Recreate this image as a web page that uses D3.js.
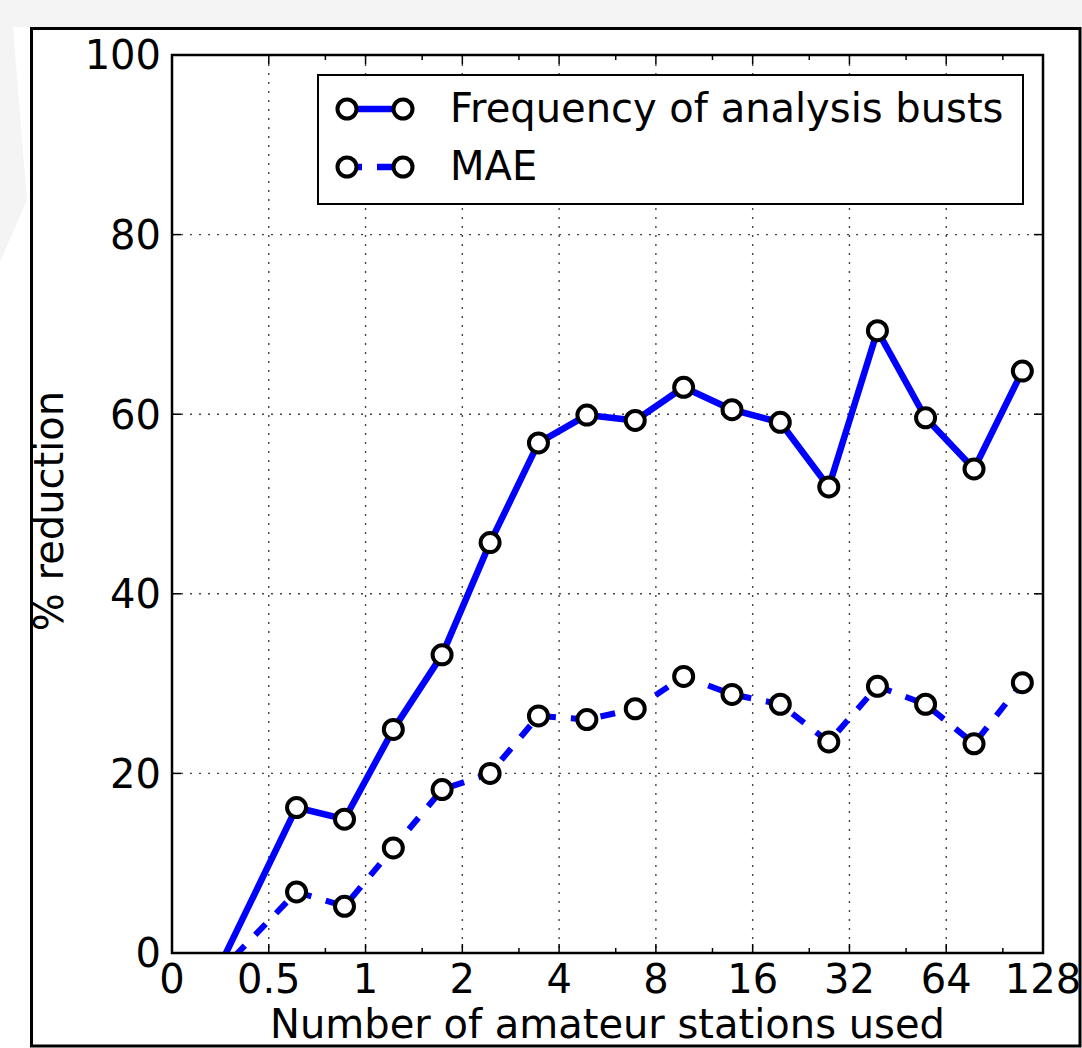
<!DOCTYPE html>
<html>
<head>
<meta charset="utf-8">
<script src="https://cdn.jsdelivr.net/npm/d3@7"></script>
<style>
  html, body { margin: 0; padding: 0; background: #ffffff; }
  svg { display: block; }
  text { font-family: "DejaVu Sans", sans-serif; fill: #000; }
</style>
</head>
<body>
<div id="chart"></div>
<script>
// ---- data ----
const stations = [0, 0.61, 0.86, 1.22, 1.73, 2.44, 3.45, 4.88, 6.9, 9.76, 13.8, 19.5, 27.6, 39.1, 55.2, 78.1, 110.4];
const freqReduction = [-12.4, 16.2, 14.9, 24.9, 33.2, 45.7, 56.8, 59.9, 59.3, 63.0, 60.5, 59.1, 51.9, 69.3, 59.6, 53.9, 64.8];
const maeReduction = [-7.6, 6.8, 5.2, 11.7, 18.2, 20.0, 26.4, 26.0, 27.2, 30.8, 28.8, 27.7, 23.5, 29.7, 27.7, 23.3, 30.1];
const xTickValues = [0, 0.5, 1, 2, 4, 8, 16, 32, 64, 128];
const xTickLabels = ["0", "0.5", "1", "2", "4", "8", "16", "32", "64", "128"];
const xMinorValues = [0.75, 1.5, 3, 6, 12, 24, 48, 96];
const yTickValues = [0, 20, 40, 60, 80, 100];
const seriesNames = ["Frequency of analysis busts", "MAE"];
const xTitle = "Number of amateur stations used";
const yTitle = "% reduction";

// ---- layout ----
const W = 1082, H = 1048;
const L = 172, R = 1043, T = 55, B = 953;
const FONT = 40;
const BLUE = "#0000ff";
const MR = 9.5, MSW = 4;

const svg = d3.select("#chart").append("svg").attr("width", W).attr("height", H);

// page background / frame
svg.append("rect").attr("width", W).attr("height", H).attr("fill", "#ffffff");
svg.append("path")
  .attr("d", "M0,0 L1082,0 L1082,27 L13,27 L27,200 L0,262 Z")
  .attr("fill", "#f4f4f4");
svg.append("rect").attr("x", 1080).attr("y", 0).attr("width", 2).attr("height", H).attr("fill", "#f4f4f4");
svg.append("rect")
  .attr("x", 31.5).attr("y", 28.5).attr("width", 1048.5).attr("height", 1017.5)
  .attr("fill", "#ffffff").attr("stroke", "#000").attr("stroke-width", 3);

// ---- scales ----
// x: log2 axis; the "0" position sits one octave below 0.5
const xLog = d3.scaleLog().base(2).domain([0.25, 128]).range([L, R]);
const x = v => xLog(v <= 0 ? 0.25 : v);
const y = d3.scaleLinear().domain([0, 100]).range([B, T]);

// clip path for the plot area
svg.append("clipPath").attr("id", "plotclip")
  .append("rect").attr("x", L).attr("y", T).attr("width", R - L).attr("height", B - T);

// ---- grid ----
const grid = svg.append("g");
xTickValues.filter(v => v > 0 && v < 128).forEach(v => {
  grid.append("line")
    .attr("x1", x(v)).attr("x2", x(v)).attr("y1", T).attr("y2", B)
    .attr("stroke", "#444").attr("stroke-width", 1.4).attr("stroke-dasharray", "2,7");
});
yTickValues.filter(v => v > 0 && v < 100).forEach(v => {
  grid.append("line")
    .attr("x1", L).attr("x2", R).attr("y1", y(v)).attr("y2", y(v))
    .attr("stroke", "#444").attr("stroke-width", 1.4).attr("stroke-dasharray", "2,7");
});

// ---- ticks (inward on all four sides) ----
const ticks = svg.append("g").attr("stroke", "#000").attr("stroke-width", 1.5);
const MAJ = 9, MIN = 5;
xTickValues.forEach(v => {
  ticks.append("line").attr("x1", x(v)).attr("x2", x(v)).attr("y1", B).attr("y2", B - MAJ);
  ticks.append("line").attr("x1", x(v)).attr("x2", x(v)).attr("y1", T).attr("y2", T + MAJ);
});
xMinorValues.forEach(v => {
  ticks.append("line").attr("x1", x(v)).attr("x2", x(v)).attr("y1", B).attr("y2", B - MIN);
  ticks.append("line").attr("x1", x(v)).attr("x2", x(v)).attr("y1", T).attr("y2", T + MIN);
});
yTickValues.forEach(v => {
  ticks.append("line").attr("x1", L).attr("x2", L + MAJ).attr("y1", y(v)).attr("y2", y(v));
  ticks.append("line").attr("x1", R).attr("x2", R - MAJ).attr("y1", y(v)).attr("y2", y(v));
});

// ---- series ----
const plot = svg.append("g").attr("clip-path", "url(#plotclip)");
const line = d3.line().x(d => x(d[0])).y(d => y(d[1]));
const freqPts = stations.map((s, i) => [s, freqReduction[i]]);
const maePts = stations.map((s, i) => [s, maeReduction[i]]);

plot.append("path").datum(maePts)
  .attr("d", line).attr("fill", "none").attr("stroke", BLUE)
  .attr("stroke-width", 6).attr("stroke-dasharray", "15,15");
plot.append("path").datum(freqPts)
  .attr("d", line).attr("fill", "none").attr("stroke", BLUE)
  .attr("stroke-width", 6.5).attr("stroke-linejoin", "round");

[maePts, freqPts].forEach(pts => {
  plot.selectAll(null).data(pts).enter().append("circle")
    .attr("cx", d => x(d[0])).attr("cy", d => y(d[1])).attr("r", MR)
    .attr("fill", "#fff").attr("stroke", "#000").attr("stroke-width", MSW);
});

// ---- axes frame ----
svg.append("rect")
  .attr("x", L).attr("y", T).attr("width", R - L).attr("height", B - T)
  .attr("fill", "none").attr("stroke", "#000").attr("stroke-width", 2.5);

// ---- tick labels ----
const labels = svg.append("g").style("font-size", FONT + "px");
xTickValues.forEach((v, i) => {
  labels.append("text")
    .attr("x", x(v)).attr("y", 993)
    .attr("text-anchor", "middle")
    .text(xTickLabels[i]);
});
yTickValues.forEach(v => {
  labels.append("text")
    .attr("x", 161).attr("y", y(v)).attr("dy", "0.36em")
    .attr("text-anchor", "end")
    .text(d3.format("d")(v));
});

// axis titles
labels.append("text")
  .attr("x", (L + R) / 2).attr("y", 1038)
  .attr("text-anchor", "middle")
  .text(xTitle);
labels.append("text")
  .attr("transform", `translate(63,${511}) rotate(-90)`)
  .attr("text-anchor", "middle")
  .text(yTitle);

// ---- legend ----
const lg = svg.append("g");
lg.append("rect")
  .attr("x", 318).attr("y", 75).attr("width", 705).attr("height", 129)
  .attr("fill", "#fff").attr("stroke", "#000").attr("stroke-width", 2);
const rowsY = [109, 167];
const dashes = [null, "15,15"];
seriesNames.forEach((name, i) => {
  const ly = rowsY[i];
  const sample = [[347, ly], [403, ly]];
  lg.append("path")
    .attr("d", d3.line()(sample))
    .attr("stroke", BLUE).attr("stroke-width", 6.5)
    .attr("stroke-dasharray", dashes[i]).attr("fill", "none");
  lg.selectAll(null).data(sample).enter().append("circle")
    .attr("cx", d => d[0]).attr("cy", d => d[1]).attr("r", MR)
    .attr("fill", "#fff").attr("stroke", "#000").attr("stroke-width", MSW);
  lg.append("text")
    .attr("x", 450).attr("y", ly + 13)
    .style("font-size", FONT + "px")
    .text(name);
});
</script>
</body>
</html>
